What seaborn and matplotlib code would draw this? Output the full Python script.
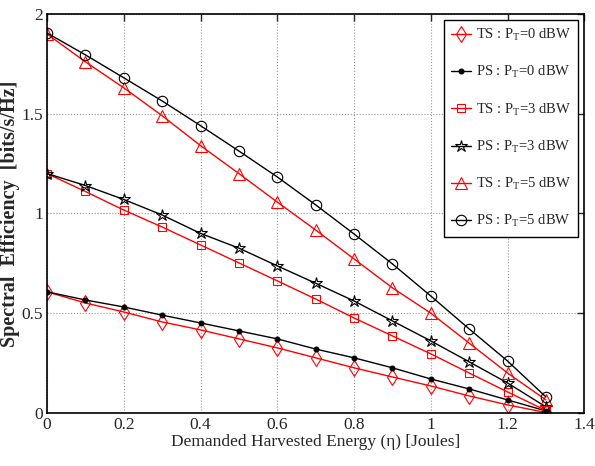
import numpy as np
import pandas as pd
import seaborn as sns
import matplotlib.pyplot as plt

# Demanded harvested energy (Joules)
eta = [0.0, 0.1, 0.2, 0.3, 0.4, 0.5, 0.6, 0.7, 0.8, 0.9, 1.0, 1.1, 1.2, 1.3]

# Spectral efficiency
ts_0 = [0.607, 0.551, 0.506, 0.456, 0.416, 0.371, 0.326, 0.276, 0.226, 0.180, 0.135, 0.085, 0.040, 0.002]
ps_0 = [0.607, 0.566, 0.531, 0.490, 0.451, 0.411, 0.371, 0.320, 0.276, 0.226, 0.170, 0.120, 0.065, 0.010]
ts_3 = [1.200, 1.110, 1.017, 0.932, 0.842, 0.752, 0.662, 0.571, 0.476, 0.386, 0.296, 0.200, 0.105, 0.012]
ps_3 = [1.200, 1.140, 1.070, 0.992, 0.900, 0.826, 0.737, 0.650, 0.561, 0.461, 0.361, 0.256, 0.150, 0.030]
ts_5 = [1.900, 1.760, 1.630, 1.490, 1.340, 1.200, 1.057, 0.917, 0.772, 0.627, 0.500, 0.350, 0.200, 0.065]
ps_5 = [1.905, 1.795, 1.680, 1.564, 1.440, 1.313, 1.183, 1.043, 0.897, 0.747, 0.586, 0.421, 0.260, 0.080]

labels = ["TS : P$_{\\mathrm{T}}$=0 dBW", "PS : P$_{\\mathrm{T}}$=0 dBW",
          "TS : P$_{\\mathrm{T}}$=3 dBW", "PS : P$_{\\mathrm{T}}$=3 dBW",
          "TS : P$_{\\mathrm{T}}$=5 dBW", "PS : P$_{\\mathrm{T}}$=5 dBW"]
series = [ts_0, ps_0, ts_3, ps_3, ts_5, ps_5]
colors = ["red", "black", "red", "black", "red", "black"]
markers = ["d", "o", "s", "*", "^", "o"]
msizes = [8, 3.5, 6, 9, 8, 7.5]

sns.set_style("white")
plt.rcParams["font.family"] = ["Liberation Serif", "DejaVu Serif"]
plt.rcParams["mathtext.fontset"] = "custom"
plt.rcParams["mathtext.rm"] = "Liberation Serif"
plt.rcParams["mathtext.it"] = "Liberation Serif"

fig = plt.figure(figsize=(5.95, 4.66), dpi=100)
ax = fig.add_axes([0.079, 0.114, 0.903, 0.856])

for i, (vals, lab) in enumerate(zip(series, labels)):
    df = pd.DataFrame({"eta": eta, "se": vals})
    filled = i == 1
    sns.lineplot(data=df, x="eta", y="se", ax=ax, color=colors[i], lw=1,
                 marker=markers[i], markersize=msizes[i],
                 markerfacecolor=colors[i] if filled else "none",
                 markeredgecolor=colors[i], markeredgewidth=0.8,
                 label=lab)

ax.set_xlim(0, 1.4)
ax.set_ylim(0, 2)
ax.set_xticks([0, 0.2, 0.4, 0.6, 0.8, 1.0, 1.2, 1.4])
ax.set_xticklabels(["0", "0.2", "0.4", "0.6", "0.8", "1", "1.2", "1.4"])
ax.set_yticks([0, 0.5, 1, 1.5, 2])
ax.set_yticklabels(["0", "0.5", "1", "1.5", "2"])
ax.grid(True, linestyle=":", color="#999999", lw=0.8)
ax.tick_params(direction="in", top=True, right=True, length=5, labelsize=12.5, width=1, pad=3)
for s in ax.spines.values():
    s.set_color("black")
    s.set_linewidth(1.2)

ax.set_xlabel("Demanded Harvested Energy (\u03b7) [Joules]", fontsize=12.5, labelpad=1)
ax.set_ylabel("Spectral  Efficiency  [bits/s/Hz]", fontsize=14.5, fontweight="bold")
ax.yaxis.set_label_coords(-0.05, 0.5)

leg = ax.legend(loc="upper right", fontsize=10.5, frameon=True, fancybox=False,
                edgecolor="black", framealpha=1, handlelength=1.4, borderpad=0.5,
                labelspacing=1.45, handletextpad=0.3, borderaxespad=0.4)
leg.get_frame().set_linewidth(1)

fig.savefig("out.png", dpi=100)
